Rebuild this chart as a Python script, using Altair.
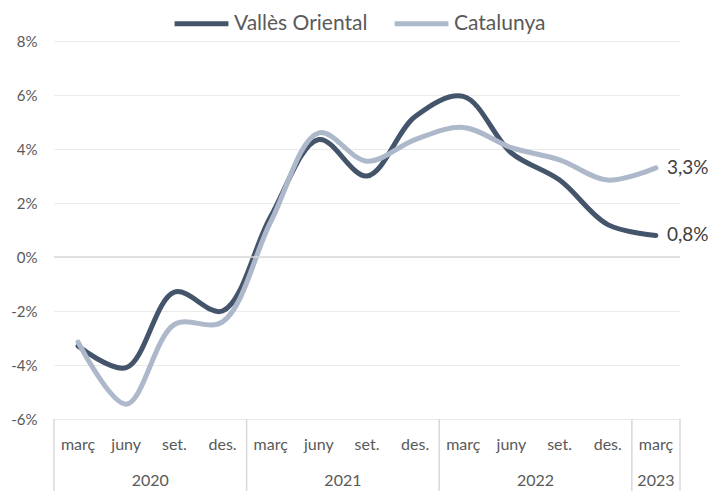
import altair as alt
import pandas as pd

quarters = ["març", "juny", "set.", "des.", "març", "juny", "set.", "des.",
            "març", "juny", "set.", "des.", "març"]
years = ["2020", "2020", "2020", "2020", "2021", "2021", "2021", "2021",
         "2022", "2022", "2022", "2022", "2023"]
valles = [-3.3, -4.1, -1.3, -2.0, 1.5, 4.35, 3.0, 5.2, 5.95, 3.85, 2.85, 1.2, 0.8]
catalunya = [-3.15, -5.45, -2.5, -2.4, 1.3, 4.6, 3.55, 4.35, 4.8, 4.05, 3.6, 2.85, 3.3]
series_names = ["Vallès Oriental", "Catalunya"]
colors = ["#44546A", "#ADB9CA"]
y_ticks = [-6, -4, -2, 0, 2, 4, 6, 8]

FONT = "Lato"
TXT = "#595959"
W, H = 626, 378

n = len(quarters)
rows = []
for i in range(n):
    rows.append({"i": i, "serie": series_names[0], "v": valles[i]})
    rows.append({"i": i, "serie": series_names[1], "v": catalunya[i]})
df = pd.DataFrame(rows)

qdf = pd.DataFrame({"i": list(range(n)), "q": quarters, "year": years})
ydf = qdf.groupby("year", as_index=False)["i"].mean()
bounds = [-0.5] + [i - 0.5 for i in range(1, n) if years[i] != years[i - 1]] + [n - 0.5]
bdf = pd.DataFrame({"b": bounds})

end_df = pd.DataFrame({
    "i": [n - 1, n - 1],
    "v": [valles[-1], catalunya[-1]],
    "lab": [f"{valles[-1]:.1f}%".replace(".", ","), f"{catalunya[-1]:.1f}%".replace(".", ",")],
})

xs = alt.Scale(domain=[-0.5, n - 0.5], nice=False, zero=False)
ys = alt.Scale(domain=[-6, 8], nice=False, zero=False)
yaxis = alt.Axis(values=y_ticks, labelExpr="datum.value + '%'",
                 domain=False, ticks=False, labelPadding=17,
                 labelFontSize=15, labelColor=TXT, labelFont=FONT,
                 grid=True, gridColor="#EAEAEA", title=None)

lines = alt.Chart(df).mark_line(interpolate="catmull-rom", strokeWidth=5, strokeCap="round").encode(
    x=alt.X("i:Q", scale=xs, axis=None),
    y=alt.Y("v:Q", scale=ys, axis=yaxis),
    color=alt.Color("serie:N", scale=alt.Scale(domain=series_names, range=colors),
                    legend=alt.Legend(title=None, orient="none", direction="horizontal",
                                      legendX=118, legendY=-47, symbolType="stroke",
                                      symbolStrokeWidth=5, symbolSize=2900,
                                      labelFontSize=21, labelFont=FONT, labelColor=TXT,
                                      columnPadding=16, labelOffset=3)),
    order=alt.Order("i:Q"),
)

zero = alt.Chart(pd.DataFrame({"z": [0]})).mark_rule(color="#D9D9D9", strokeWidth=1.5).encode(
    y=alt.Y("z:Q", scale=ys, axis=yaxis)
)

seps = alt.Chart(bdf).mark_rule(color="#D9D9D9", strokeWidth=1.5).encode(
    x=alt.X("b:Q", scale=xs, axis=None), y=alt.value(H), y2=alt.value(H + 75)
)

qlabels = alt.Chart(qdf).mark_text(fontSize=16, font=FONT, color=TXT, baseline="middle").encode(
    x=alt.X("i:Q", scale=xs, axis=None), y=alt.value(H + 26), text="q:N"
)

ylabels = alt.Chart(ydf).mark_text(fontSize=16, font=FONT, color=TXT, baseline="middle").encode(
    x=alt.X("i:Q", scale=xs, axis=None), y=alt.value(H + 62), text="year:N"
)

endlabels = alt.Chart(end_df).mark_text(fontSize=19, font=FONT, color="#404040", align="left",
                                         baseline="middle", dx=11).encode(
    x=alt.X("i:Q", scale=xs, axis=None), y=alt.Y("v:Q", scale=ys, axis=yaxis), text="lab:N"
)

chart = alt.layer(lines, zero, seps, qlabels, ylabels, endlabels).properties(
    width=W, height=H,
    autosize=alt.AutoSizeParams(type="none"),
    padding={"left": 46, "top": 33, "right": 30, "bottom": 72},
).configure_view(stroke=None)

chart.save("out.html", embed_options={"renderer": "svg", "actions": False})
